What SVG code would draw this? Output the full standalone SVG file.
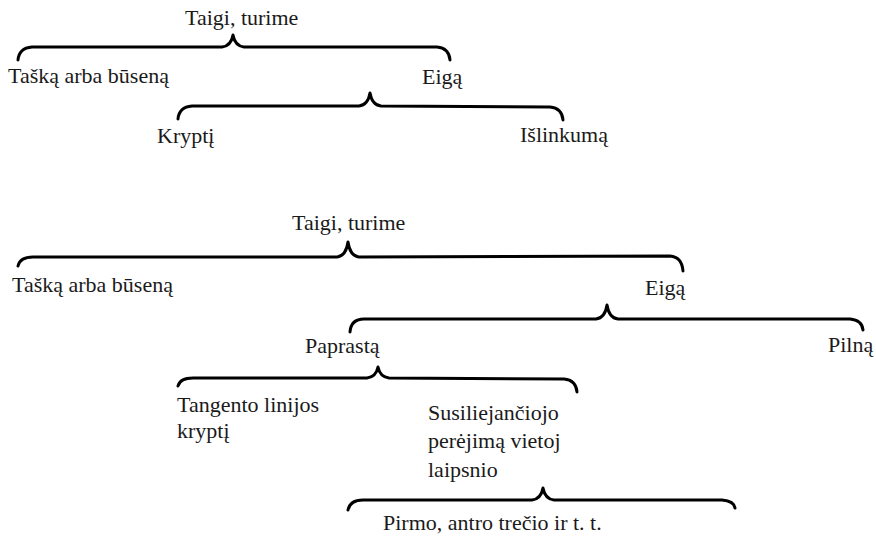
<svg xmlns="http://www.w3.org/2000/svg" width="876" height="537" viewBox="0 0 876 537">
<style>
text{font-size:22px;fill:#1a1a1a}
.br{fill:none;stroke:#000;stroke-width:3;stroke-linecap:round;stroke-linejoin:round}
</style>
<rect width="876" height="537" fill="#fff"/>
<g id="connectors">
<path class="br" d="M18,60 Q19,48 32,47 L222,47 Q231,46 233,35 Q235,46 244,47 L437,47 Q449,48 450,60"/>
<path class="br" d="M178,119 Q179,107 192,106 L359,106 Q368,105 370,93 Q372,105 381,106 L550,107 Q562,108 563,120"/>
<path class="br" d="M18,266 Q20,257 33,257 L337,257 Q346,256 348,242 Q350,256 359,257 L670,256 Q682,257 683,271"/>
<path class="br" d="M350,332 Q351,319 364,319 L596,319 Q605,318 607,305 Q609,318 618,319 L850,319 Q862,320 863,330"/>
<path class="br" d="M178,386 Q180,378 193,378 L367,378 Q376,377 378,367 Q380,377 389,378 L564,379 Q576,380 577,392"/>
<path class="br" d="M348,510 Q350,500 363,500 L532,500 Q541,499 543,488 Q545,499 554,500 L722,500 Q734,501 735,508"/>
</g>
<g id="n1"><text font-family="Liberation Serif" x="185" y="25">Taigi, turime</text></g>
<g id="n2"><text font-family="Liberation Serif" x="8" y="83">Tašką arba būseną</text></g>
<g id="n3"><text font-family="Liberation Serif" x="422" y="84">Eigą</text></g>
<g id="n4"><text font-family="Liberation Serif" x="157" y="143">Kryptį</text></g>
<g id="n5"><text font-family="Liberation Serif" x="520" y="142">Išlinkumą</text></g>
<g id="n6"><text font-family="Liberation Serif" x="292" y="230">Taigi, turime</text></g>
<g id="n7"><text font-family="Liberation Serif" x="12" y="292">Tašką arba būseną</text></g>
<g id="n8"><text font-family="Liberation Serif" x="645" y="295">Eigą</text></g>
<g id="n9"><text font-family="Liberation Serif" x="305" y="353">Paprastą</text></g>
<g id="n10"><text font-family="Liberation Serif" x="828" y="352">Pilną</text></g>
<g id="n11"><text font-family="Liberation Serif" x="177" y="412">Tangento linijos</text><text font-family="Liberation Serif" x="177" y="438">kryptį</text></g>
<g id="n12"><text font-family="Liberation Serif" x="428" y="420">Susiliejančiojo</text><text font-family="Liberation Serif" x="428" y="448">perėjimą vietoj</text><text font-family="Liberation Serif" x="428" y="477">laipsnio</text></g>
<g id="n13"><text font-family="Liberation Serif" x="383" y="530">Pirmo, antro trečio ir t. t.</text></g>
</svg>
